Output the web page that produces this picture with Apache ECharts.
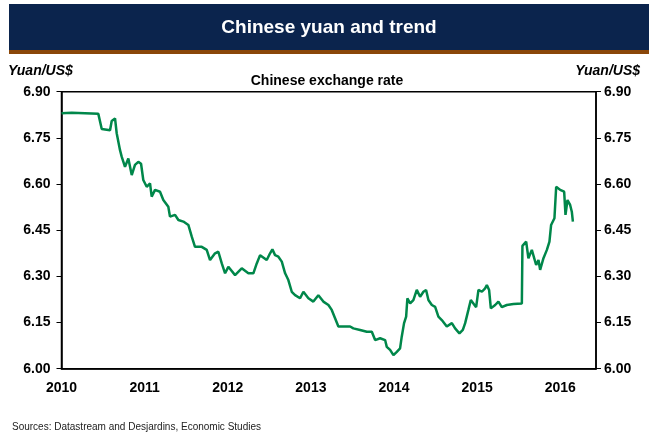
<!DOCTYPE html>
<html>
<head>
<meta charset="utf-8">
<script src="https://cdn.jsdelivr.net/npm/echarts@6/dist/echarts.min.js"></script>
<style>
html,body{margin:0;padding:0;background:#fff;}
#chart{width:649px;height:434px;}
</style>
</head>
<body>
<div id="chart"></div>
<script>
// ---- data (decimal year, yuan per US$) ----
var years = [
2010.0,2010.123,2010.443,2010.484,2010.584,2010.604,2010.644,2010.664,2010.704,2010.724,
2010.764,2010.804,2010.845,2010.884,2010.924,2010.957,2010.984,2011.025,2011.065,2011.085,
2011.125,2011.185,2011.225,2011.285,2011.305,2011.366,2011.406,2011.466,2011.526,2011.567,
2011.606,2011.687,2011.747,2011.787,2011.847,2011.887,2011.928,2011.968,2012.007,2012.088,
2012.168,2012.248,2012.308,2012.349,2012.389,2012.469,2012.509,2012.537,2012.569,2012.609,
2012.650,2012.690,2012.729,2012.770,2012.810,2012.870,2012.910,2012.970,2013.030,2013.090,
2013.150,2013.211,2013.251,2013.291,2013.331,2013.372,2013.432,2013.472,2013.511,2013.592,
2013.673,2013.733,2013.773,2013.833,2013.893,2013.913,2013.953,2013.993,2014.034,2014.073,
2014.093,2014.121,2014.146,2014.161,2014.194,2014.233,2014.274,2014.314,2014.354,2014.386,
2014.414,2014.455,2014.495,2014.534,2014.575,2014.635,2014.696,2014.735,2014.787,2014.828,
2014.856,2014.895,2014.924,2014.955,2014.988,2015.016,2015.057,2015.096,2015.117,2015.144,
2015.165,2015.217,2015.256,2015.297,2015.357,2015.437,2015.538,2015.545,2015.590,2015.617,
2015.658,2015.677,2015.710,2015.738,2015.758,2015.798,2015.839,2015.870,2015.890,2015.930,
2015.951,2015.999,2016.047,2016.063,2016.087,2016.119,2016.139,2016.152
];
var rates = [
6.830,6.832,6.828,6.779,6.775,6.805,6.813,6.765,6.710,6.689,
6.656,6.683,6.629,6.662,6.672,6.666,6.613,6.591,6.602,6.559,
6.581,6.575,6.548,6.526,6.494,6.500,6.483,6.478,6.467,6.429,
6.396,6.396,6.386,6.353,6.375,6.380,6.342,6.310,6.331,6.304,
6.326,6.310,6.310,6.342,6.369,6.353,6.375,6.388,6.369,6.364,
6.348,6.310,6.288,6.250,6.239,6.229,6.250,6.229,6.218,6.239,
6.218,6.207,6.191,6.164,6.137,6.137,6.137,6.137,6.131,6.126,
6.120,6.120,6.093,6.099,6.093,6.071,6.061,6.044,6.055,6.066,
6.104,6.148,6.169,6.229,6.212,6.223,6.256,6.234,6.250,6.256,
6.223,6.207,6.201,6.169,6.158,6.137,6.148,6.131,6.115,6.126,
6.148,6.191,6.223,6.212,6.200,6.256,6.250,6.261,6.272,6.256,
6.196,6.207,6.218,6.200,6.207,6.210,6.212,6.399,6.413,6.359,
6.386,6.380,6.337,6.353,6.321,6.359,6.386,6.413,6.467,6.489,
6.591,6.581,6.575,6.500,6.548,6.532,6.510,6.478
];
var yTicks = [6.00, 6.15, 6.30, 6.45, 6.60, 6.75, 6.90];
var xYears = [2010, 2011, 2012, 2013, 2014, 2015, 2016];

var seriesData = years.map(function (y, i) { return [y, rates[i]]; });

var chart = echarts.init(document.getElementById('chart'), null, {renderer: 'canvas'});
var FONT = 'Liberation Sans, Arial, sans-serif';

function yFmt(v) { return Number(v).toFixed(2); }
function xFmt(v) {
  var r = Math.round(v);
  return (Math.abs(v - r) < 1e-6 && xYears.indexOf(r) >= 0) ? String(r) : '';
}

var yAxisBase = function (pos, margin) {
  return {
    type: 'value', position: pos,
    min: yTicks[0], max: yTicks[yTicks.length - 1], interval: 0.15,
    axisLine: {show: true, lineStyle: {color: '#000', width: 1.5}},
    axisTick: {show: true, inside: false, length: 5, lineStyle: {color: '#000', width: 1}},
    splitLine: {show: false},
    axisLabel: {formatter: yFmt, color: '#000', fontFamily: FONT, fontWeight: 'bold', fontSize: 14, margin: margin}
  };
};

chart.setOption({
  animation: false,
  backgroundColor: '#fff',
  grid: {left: 61.5, right: 53, top: 91.7, bottom: 65.3, show: true, borderColor: '#000', borderWidth: 1.5, backgroundColor: 'transparent'},
  xAxis: {
    type: 'value', min: 2010, max: 2016.43, interval: 1,
    axisLine: {show: true, lineStyle: {color: '#000', width: 1.5}},
    axisTick: {show: false},
    splitLine: {show: false},
    axisLabel: {formatter: xFmt, color: '#000', fontFamily: FONT, fontWeight: 'bold', fontSize: 14, margin: 12, showMaxLabel: false}
  },
  yAxis: [yAxisBase('left', 11), yAxisBase('right', 8)],
  graphic: [
    {type: 'rect', shape: {x: 9, y: 4, width: 640, height: 46}, style: {fill: '#0b244d'}, silent: true},
    {type: 'rect', shape: {x: 9, y: 50, width: 640, height: 4}, style: {fill: '#8a4709'}, silent: true},
    {type: 'text', x: 329, y: 28, style: {text: 'Chinese yuan and trend', fill: '#fff', font: 'bold 19px ' + FONT, textAlign: 'center', textVerticalAlign: 'middle'}},
    {type: 'text', x: 8, y: 71, style: {text: 'Yuan/US$', fill: '#000', font: 'italic bold 14px ' + FONT, textAlign: 'left', textVerticalAlign: 'middle'}},
    {type: 'text', x: 640, y: 71, style: {text: 'Yuan/US$', fill: '#000', font: 'italic bold 14px ' + FONT, textAlign: 'right', textVerticalAlign: 'middle'}},
    {type: 'text', x: 327, y: 81, style: {text: 'Chinese exchange rate', fill: '#000', font: 'bold 14px ' + FONT, textAlign: 'center', textVerticalAlign: 'middle'}},
    {type: 'text', x: 12, y: 427, style: {text: 'Sources: Datastream and Desjardins, Economic Studies', fill: '#222', font: '10px ' + FONT, textAlign: 'left', textVerticalAlign: 'middle'}}
  ],
  series: [{
    type: 'line', xAxisIndex: 0, yAxisIndex: 0,
    data: seriesData, showSymbol: false, symbol: 'none',
    lineStyle: {color: '#00874a', width: 2.5},
    itemStyle: {color: '#00874a'}
  }]
});
</script>
</body>
</html>
